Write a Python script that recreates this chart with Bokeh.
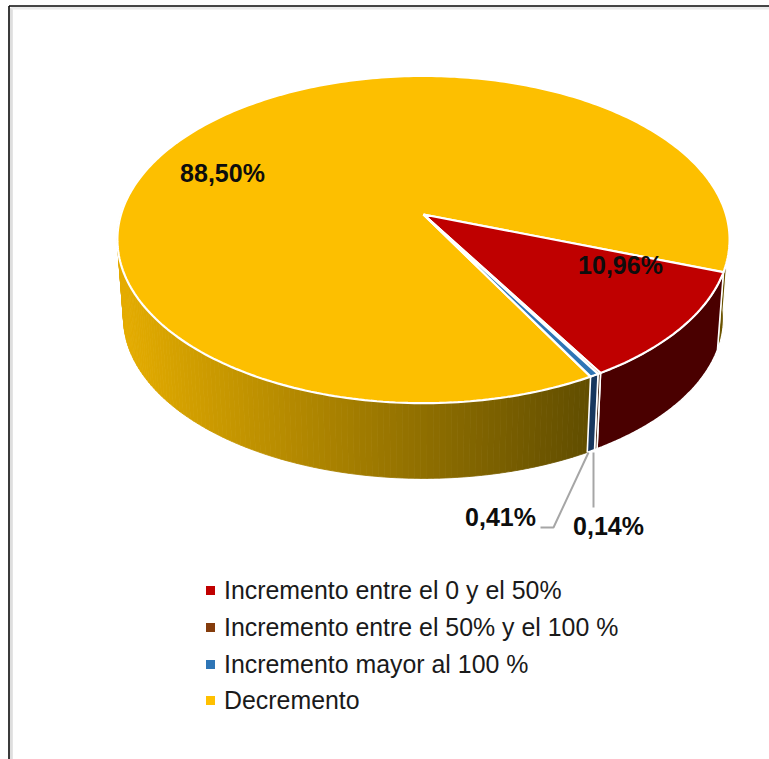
import math
from bokeh.core.properties import value
from bokeh.embed import file_html
from bokeh.models import ColumnDataSource, Range1d
from bokeh.plotting import figure
from bokeh.resources import INLINE

W, H = 769, 759

categories = ["Incremento entre el 0 y el 50%", "Incremento entre el 50% y el 100 %",
              "Incremento mayor al 100 %", "Decremento"]
shares = [10.96, 0.14, 0.41, 88.50]
share_labels = ["10,96%", "0,14%", "0,41%", "88,50%"]
top_colors = ["#bf0000", "#843c0c", "#2e75b6", "#fdbf00"]
wall_colors = ["#4a0000", "#3a1a05", "#17375e", None]
legend_colors = ["#c00000", "#843c0c", "#2e75b6", "#ffc000"]

# Pie geometry in screen pixels: a tilted disc seen in perspective.
APEX_X, APEX_Y = 423, 214
DISC_A, DISC_B, TILT = 159.8, 302.5, 0.153
START_DEG = -20.0
DEPTH = 79
BOTTOM_SCALE = 0.98


def rim(theta_deg, scale=1.0, drop=0.0):
    t = math.radians(theta_deg)
    u, v = math.cos(t), math.sin(t)
    s = 1 / (1 + TILT * v)
    x = APEX_X + scale * DISC_B * u * s
    y = APEX_Y - scale * DISC_A * v * s + drop
    return x, y


def arc(a0, a1, n):
    return [a0 + (a1 - a0) * i / n for i in range(n + 1)]


def wall_color(x):
    # Side shading for the largest slice: bright on the left, dark towards the front right.
    t = min(max((x - 120) / (585 - 120), 0), 1)
    return "#%02x%02x%02x" % (round(228 + (98 - 228) * t), round(172 + (78 - 172) * t), 0)


# Slice boundaries, clockwise from the start angle.
bounds = [START_DEG]
for s in shares:
    bounds.append(bounds[-1] - s * 3.6)

p = figure(width=W, height=H, x_range=Range1d(0, W), y_range=Range1d(H, 0),
           toolbar_location=None, output_backend="svg", min_border=0,
           outline_line_color=None, background_fill_color="white", border_fill_color="white")
p.axis.visible = False
p.grid.visible = False

# Frame: dark rule on the left and top with a soft inner shade.
p.multi_line(xs=[[10.8, 10.8], [10.8, W]], ys=[[7.5, H], [7.5, 7.5]],
             line_color=["#dedede", "#ececec"], line_width=3)
p.multi_line(xs=[[8.5, 8.5], [8.5, W]], ys=[[5.5, H], [5.5, 5.5]], line_color="#0a0a0a", line_width=1.6)

# Walls of the big slice.
angles = arc(bounds[3], bounds[3] - 135, 135)
xs, ys, cs = [], [], []
for b0, b1 in zip(angles[:-1], angles[1:]):
    x0, y0 = rim(b0)
    x1, y1 = rim(b1)
    x2, y2 = rim(b1, BOTTOM_SCALE, DEPTH)
    x3, y3 = rim(b0, BOTTOM_SCALE, DEPTH)
    xs.append([x0, x1, x2, x3])
    ys.append([y0, y1, y2, y3])
    cs.append(wall_color((x0 + x1) / 2))
p.patches(xs, ys, fill_color=cs, line_color=cs, line_width=0.8)

# Sliver of the same slice's wall showing behind the right edge.
angles = arc(START_DEG + 14, START_DEG, 14)
sx = [rim(a)[0] for a in angles] + [rim(a, BOTTOM_SCALE, DEPTH)[0] for a in reversed(angles)]
sy = [rim(a)[1] for a in angles] + [rim(a, BOTTOM_SCALE, DEPTH)[1] for a in reversed(angles)]
p.patch(sx, sy, fill_color="#6b5400", line_color="white", line_width=1.2)

# Walls of the three smaller slices.
for i in range(3):
    angles = arc(bounds[i], bounds[i + 1], max(2, int(abs(bounds[i] - bounds[i + 1]))))
    xs = [rim(a)[0] for a in angles] + [rim(a, BOTTOM_SCALE, DEPTH)[0] for a in reversed(angles)]
    ys = [rim(a)[1] for a in angles] + [rim(a, BOTTOM_SCALE, DEPTH)[1] for a in reversed(angles)]
    p.patch(xs, ys, fill_color=wall_colors[i], line_color="white", line_width=1.6)

# Top faces, the big slice first.
for i in [3, 0, 1, 2]:
    angles = arc(bounds[i], bounds[i + 1], max(2, int(abs(bounds[i] - bounds[i + 1]))))
    xs = [APEX_X] + [rim(a)[0] for a in angles]
    ys = [APEX_Y] + [rim(a)[1] for a in angles]
    p.patch(xs, ys, fill_color=top_colors[i], line_color="white", line_width=2.2)

# Leader lines for the two thinnest slices.
p.line([588, 553, 540], [452, 527, 527], line_color="#a6a6a6", line_width=2)
p.line([593, 593], [452, 507], line_color="#a6a6a6", line_width=2)

# Value labels.
label_src = ColumnDataSource(dict(
    x=[620, 608, 500, 222], y=[264.5, 525.5, 516.5, 172.5],
    t=share_labels, size=["25px", "25px", "25px", "25px"]))
p.text("x", "y", text="t", source=label_src, text_font=value("Liberation Sans"),
       text_font_style="bold", text_font_size="size", text_color="#0d0d0d",
       text_align="center", text_baseline="middle")

# Legend.
rows = [590, 627, 664, 700]
text_rows = [589.3, 626.3, 663.3, 699.3]
p.rect([210] * 4, rows, width=9, height=9, fill_color=legend_colors, line_color=None)
p.text([223.5] * 4, text_rows, text=categories, text_font=value("Liberation Sans"),
       text_font_size="24.9px", text_color="#1a1a1a", text_align="left", text_baseline="middle")

open("out.html", "w").write(file_html(p, INLINE))
